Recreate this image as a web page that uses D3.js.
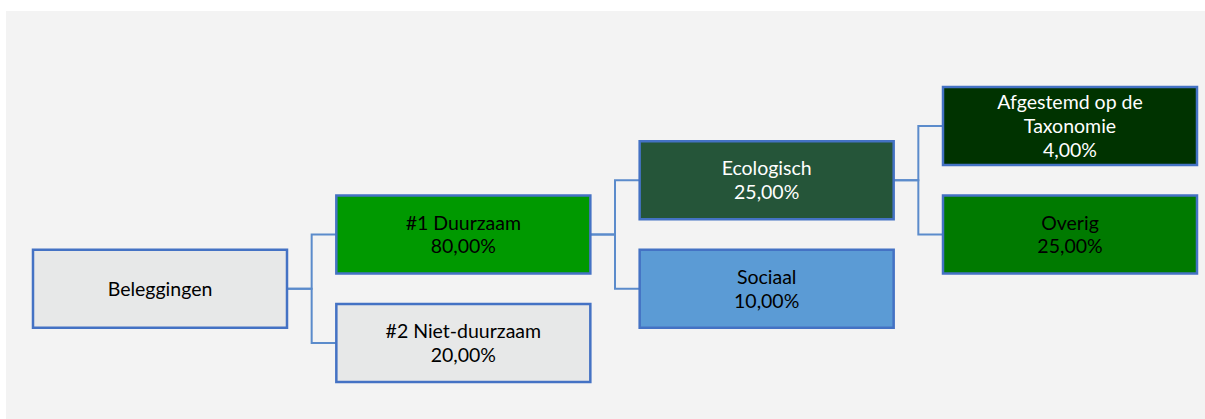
<!DOCTYPE html>
<html lang="nl">
<head>
<meta charset="UTF-8" />
<title>Beleggingen</title>
<script src="https://d3js.org/d3.v7.min.js"></script>
<style>
    body { margin: 0; background: #ffffff; }
    .box { stroke: #4472c4; stroke-width: 2.5; }
    .link { fill: none; stroke: #5b8bcb; stroke-width: 2; }
    .label { font-family: Lato, "Open Sans", sans-serif; font-size: 19.5px; text-anchor: middle; }
</style>
</head>
<body>
<svg width="1205" height="419"></svg>
<script>
    // node data
    const names = ["Beleggingen", "#1 Duurzaam", "#2 Niet-duurzaam", "Ecologisch", "Sociaal", "Afgestemd op de|Taxonomie", "Overig"];
    const values = [null, 80, 20, 25, 10, 4, 25];
    const parents = [-1, 0, 0, 1, 1, 3, 3];
    const levels = [0, 1, 1, 2, 2, 3, 3];
    const rows = [3, 2, 4, 1, 3, 0, 2];
    const fills = ["#e7e8e8", "#009900", "#e7e8e8", "#255539", "#5b9bd5", "#003300", "#007a00"];
    const textColors = ["#000", "#000", "#000", "#fff", "#000", "#fff", "#000"];

    const svg = d3.select("svg");
    const boxW = 254, boxH = 78;

    const x = d3.scaleLinear().domain([0, 3]).range([33, 943]);
    const y = d3.scaleLinear().domain([0, 4]).range([126, 343]);
    const fmt = v => d3.format(".2f")(v).replace(".", ",") + "%";

    const nodes = names.map((n, i) => ({
        lines: n.split("|").concat(values[i] == null ? [] : [fmt(values[i])]),
        parent: parents[i], x: x(levels[i]), cy: y(rows[i]),
        fill: fills[i], color: textColors[i]
    }));

    svg.append("rect")
        .attr("x", 6).attr("y", 11)
        .attr("width", 1199).attr("height", 408)
        .attr("fill", "#f3f3f3");

    // connectors
    svg.selectAll(".link")
        .data(nodes.filter(d => d.parent >= 0))
        .enter()
        .append("path")
        .attr("class", "link")
        .attr("d", d => {
            const p = nodes[d.parent];
            const x0 = p.x + boxW, mx = (x0 + d.x) / 2;
            return `M${x0},${p.cy}H${mx}V${d.cy}H${d.x}`;
        });

    const g = svg.selectAll(".node")
        .data(nodes)
        .enter()
        .append("g")
        .attr("class", "node");

    g.append("rect")
        .attr("class", "box")
        .attr("x", d => d.x)
        .attr("y", d => d.cy - boxH / 2)
        .attr("width", boxW)
        .attr("height", boxH)
        .attr("fill", d => d.fill);

    g.each(function(d) {
        const n = d.lines.length;
        d3.select(this).selectAll("text")
            .data(d.lines)
            .enter()
            .append("text")
            .attr("class", "label")
            .attr("x", d.x + boxW / 2)
            .attr("y", (t, i) => d.cy + 7 + (i - (n - 1) / 2) * 23.7)
            .attr("fill", d.color)
            .text(t => t);
    });
</script>
</body>
</html>
